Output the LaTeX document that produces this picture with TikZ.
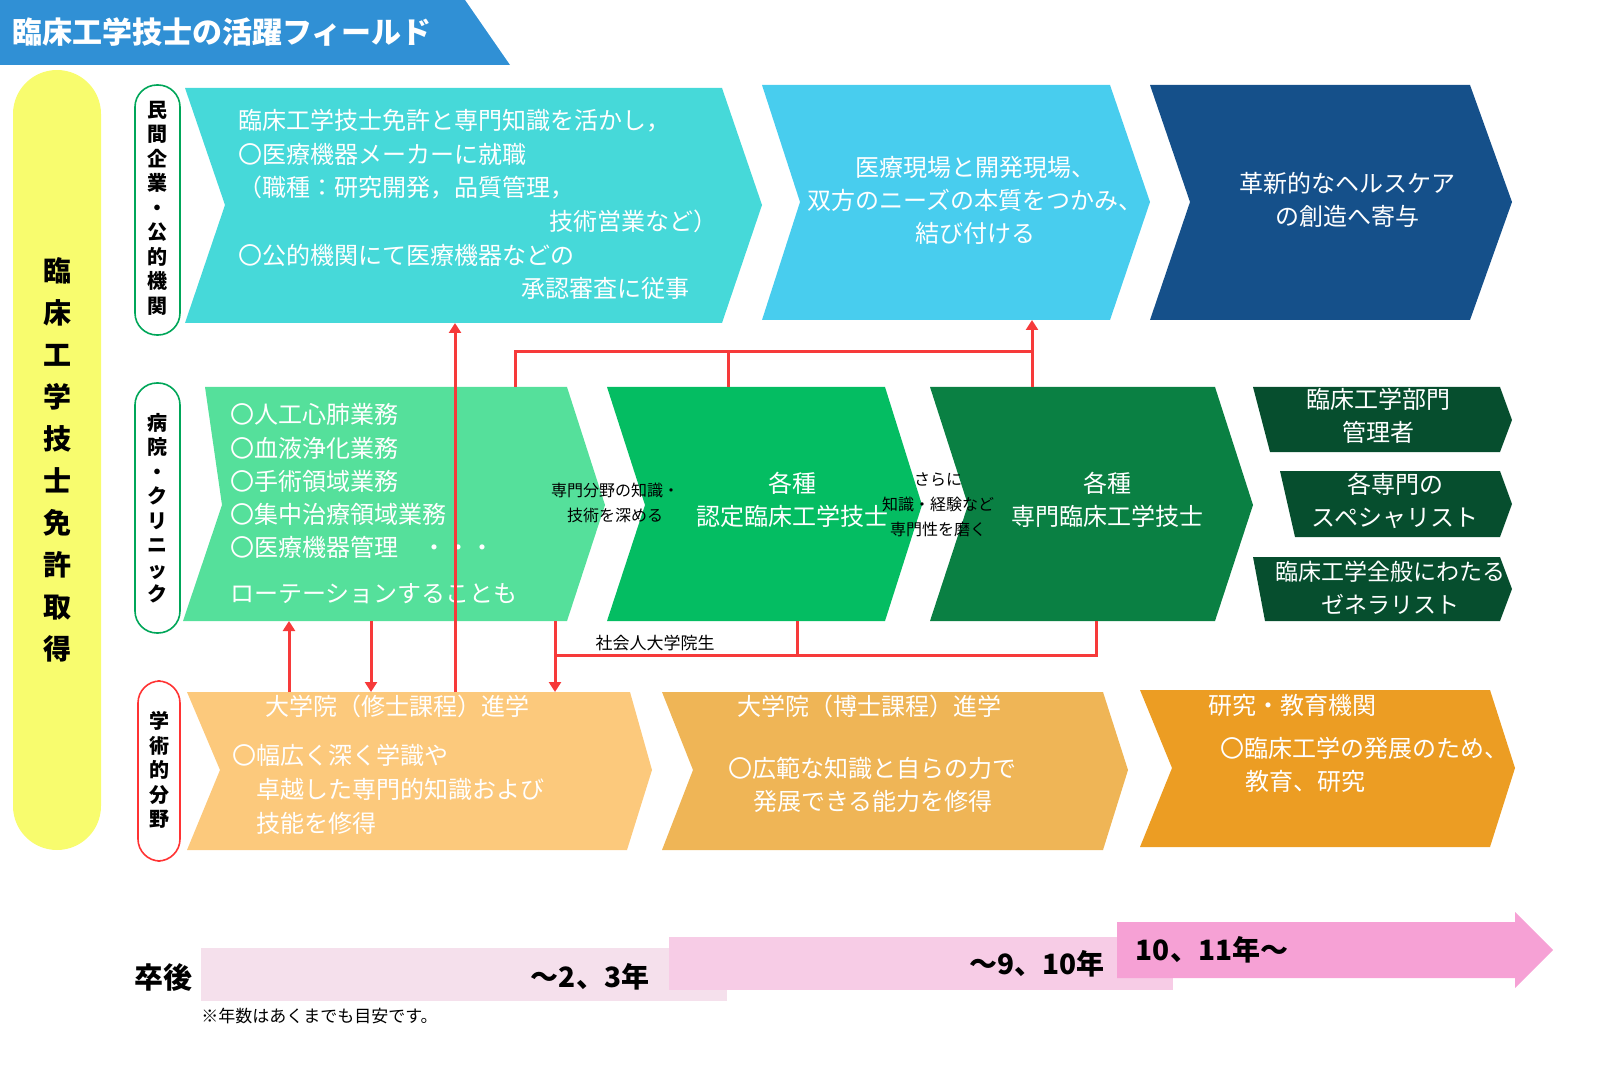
\documentclass[tikz,border=0pt]{standalone}
\usepackage{fontspec}
\setmainfont{Noto Sans CJK JP}
\usetikzlibrary{arrows.meta}
\newcommand\fz[2]{\fontsize{\fpeval{#1/2}pt}{\fpeval{#2/2}pt}\selectfont}
\begin{document}
\begin{tikzpicture}[x=0.5pt,y=-0.5pt,
 wt/.style={text=white,font=\fz{24}{33},inner sep=0pt},
 wtl/.style={wt,anchor=west},
 wtc/.style={wt,align=center},
 bk/.style={text=black,font=\fz{16}{25},align=center,inner sep=0pt},
 redl/.style={draw={rgb,255:red,246;green,58;blue,58},line width=1.5pt},
 reda/.style={redl,-{Triangle[length=5pt,width=6pt]}},
 pill/.style={draw=#1,line width=0.8pt,fill=white,rounded corners=11pt},
 vt/.style={font=\fz{20}{24.5}\bfseries,align=center,inner sep=0pt}]
\useasboundingbox (0,0) rectangle (1600,1080);
\definecolor{ttl}{HTML}{3090D5}
\definecolor{ca}{HTML}{46D9D9}\definecolor{cb}{HTML}{48CDEE}\definecolor{cc}{HTML}{15508A}
\definecolor{cd}{HTML}{55E09B}\definecolor{ce}{HTML}{04BD62}\definecolor{cf}{HTML}{0A8043}
\definecolor{cg}{HTML}{064E2E}\definecolor{yl}{HTML}{F8FC6E}
\definecolor{ch}{HTML}{FCC97C}\definecolor{ci}{HTML}{EFB556}\definecolor{cj}{HTML}{EC9D23}
\definecolor{p1}{HTML}{F5E0EC}\definecolor{p2}{HTML}{F7CCE6}\definecolor{p3}{HTML}{F6A1D5}
% title
\fill[ttl] (0,0)--(465,0)--(510,65)--(0,65)--cycle;
\node[anchor=west,text=white,font=\fz{30}{34}\bfseries,inner sep=0pt] (title) at (12,32) {臨床工学技士の活躍フィールド};
% yellow pill
\fill[yl,rounded corners=22pt] (13,70) rectangle (101,850);
\node[font=\fz{28}{42}\bfseries,align=center,inner sep=0pt] (lic) at (57,460) {臨\\床\\工\\学\\技\\士\\免\\許\\取\\得};
% row labels
\draw[pill=teal!70!green] (135,85) rectangle (180,335);
\node[vt] (r1) at (157.5,208) {民\\間\\企\\業\\・\\公\\的\\機\\関};
\draw[pill=teal!70!green] (135,383) rectangle (180,633);
\node[vt] (r2) at (157.5,508) {病\\院\\・\\ク\\リ\\ニ\\ッ\\ク};
\draw[pill=red!80!white] (138,681) rectangle (180,861);
\node[vt] (r3) at (159,770) {学\\術\\的\\分\\野};
% row 1
\fill[ca] (185,88)--(722,88)--(762,205)--(722,323)--(185,323)--(225,205)--cycle;
\fill[cb] (762,85)--(1110,85)--(1150,202)--(1110,320)--(762,320)--(800,202)--cycle;
\fill[cc] (1150,85)--(1470,85)--(1512,202)--(1470,320)--(1150,320)--(1190,202)--cycle;
\coordinate (A) at (455,323);\coordinate (B) at (1032,320);
\node[wtl] at (238,121) {臨床工学技士免許と専門知識を活かし，};
\node[wtl] at (238,154) {〇医療機器メーカーに就職};
\node[wtl] at (238,188) {（職種：研究開発，品質管理，};
\node[wt,anchor=east] at (718,221) {技術営業など）};
\node[wtl] at (238,255) {〇公的機関にて医療機器などの};
\node[wt,anchor=east] at (690,288) {承認審査に従事};
\node[wtc] (btext) at (975,200) {医療現場と開発現場、\\双方のニーズの本質をつかみ、\\結び付ける};
\node[wtc] (ctext) at (1347,200) {革新的なヘルスケア\\の創造へ寄与};
% row 2
\fill[cd] (205,387)--(567,387)--(605,505)--(567,621)--(183,621)--(222,505)--cycle;
\fill[ce] (607,387)--(885,387)--(922,505)--(885,621)--(607,621)--(645,505)--cycle;
\fill[cf] (930,387)--(1215,387)--(1253,505)--(1215,621)--(930,621)--(968,505)--cycle;
\foreach \y/\t in {414/〇人工心肺業務,448/〇血液浄化業務,481/〇手術領域業務,514/〇集中治療領域業務,547/〇医療機器管理　・・・,594/ローテーションすることも}
 \node[wtl] at (230,\y) {\t};
\node[wtc] (etext) at (792,500) {各種\\認定臨床工学技士};
\node[wtc] (ftext) at (1107,500) {各種\\専門臨床工学技士};
\fill[cg] (1253,387)--(1500,387)--(1512,420)--(1500,452)--(1270,452)--cycle;
\fill[cg] (1280,471)--(1500,471)--(1512,504)--(1500,537)--(1295,537)--cycle;
\fill[cg] (1253,557)--(1500,557)--(1512,589)--(1500,621)--(1265,621)--cycle;
\node[wtc] (g1) at (1378,416) {臨床工学部門\\管理者};
\node[wtc] (g2) at (1395,501) {各専門の\\スペシャリスト};
\node[wtc,font=\fz{23}{33}] (g3) at (1390,588) {臨床工学全般にわたる\\ゼネラリスト};
% row 3
\fill[ch] (187,692)--(630,692)--(652,770)--(627,850)--(187,850)--(220,770)--cycle;
\fill[ci] (662,692)--(1103,692)--(1128,770)--(1103,850)--(662,850)--(693,770)--cycle;
\fill[cj] (1140,690)--(1490,690)--(1515,768)--(1490,847)--(1140,847)--(1172,768)--cycle;
\node[wtl] at (265,706) {大学院（修士課程）進学};
\node[wtl] at (232,755) {〇幅広く深く学識や};
\node[wtl] at (256,789) {卓越した専門的知識および};
\node[wtl] at (256,823) {技能を修得};
\node[wtl] at (737,706) {大学院（博士課程）進学};
\node[wtl] at (728,768) {〇広範な知識と自らの力で};
\node[wtl] at (753,801) {発展できる能力を修得};
\node[wtl] at (1208,705) {研究・教育機関};
\node[wtl] at (1220,748) {〇臨床工学の発展のため、};
\node[wtl] at (1245,781) {教育、研究};
% red connectors
\draw[reda] (455,692) -- (A);
\draw[reda] (289,692) -- (289,621);
\draw[reda] (371,621) -- (371,692);
\draw[redl] (515,387) -- (515,352) -- (1032,352);
\draw[redl] (728,387) -- (728,352);
\draw[reda] (1032,387) -- (B);
\draw[reda] (555,621) -- (555,692);
\draw[redl] (555,655) -- (1096,655) -- (1096,621);
\draw[redl] (797,621) -- (797,655);
\node[bk,font=\fz{17}{20}] (shakai) at (655,643) {社会人大学院生};
\node[bk] (l1) at (615,503) {専門分野の知識・\\技術を深める};
\node[bk] (l2) at (938,505) {さらに\\知識・経験など\\専門性を磨く};
% timeline
\fill[p1] (201,948) rectangle (727,1001);
\fill[p2] (669,937) rectangle (1173,990);
\fill[p3] (1117,922) -- (1515,922) -- (1515,912) -- (1553,950) -- (1515,988) -- (1515,978) -- (1117,978) -- cycle;
\node[font=\fz{29}{32}\bfseries,inner sep=0pt] (sotsu) at (163,977) {卒後};
\node[font=\fz{28}{32}\bfseries,inner sep=0pt] (t1) at (590,977) {～2、3年};
\node[font=\fz{28}{32}\bfseries,inner sep=0pt] (t2) at (1037,964) {～9、10年};
\node[font=\fz{28}{32}\bfseries,inner sep=0pt] (t3) at (1212,950) {10、11年～};
\node[anchor=west,font=\fz{17}{20},inner sep=0pt] (note) at (201,1016) {※年数はあくまでも目安です。};
\end{tikzpicture}
\end{document}
